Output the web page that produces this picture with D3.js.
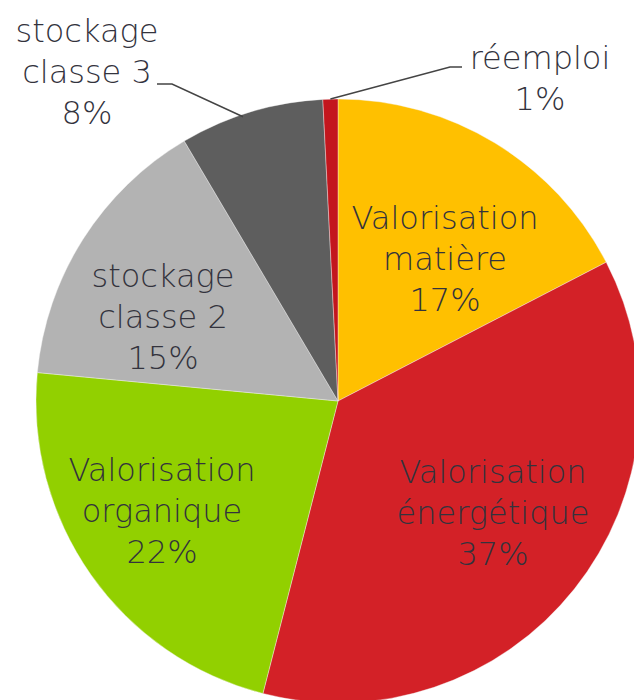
<!DOCTYPE html>
<html><head><meta charset="utf-8">
<script src="https://cdn.jsdelivr.net/npm/d3@7"></script>
<style>html,body{margin:0;padding:0;background:#fff;}svg{display:block;}</style>
</head><body>
<svg id="chart" width="634" height="700"></svg>
<script>
const categories = ["Valorisation matière","Valorisation énergétique","Valorisation organique","stockage classe 2","stockage classe 3","réemploi"];
const values = [17.4, 36.6, 22.5, 15.0, 7.7, 0.8];
const percentLabels = ["17%","37%","22%","15%","8%","1%"];
const labelLines = [["Valorisation","matière"],["Valorisation","énergétique"],["Valorisation","organique"],["stockage","classe 2"],["stockage","classe 3"],["réemploi"]];
const colors = ["#FFC000","#D32127","#92D000","#B3B3B3","#5E5E5E","#C3161D"];

const svg = d3.select("#chart");
const cx = 338, cy = 401, R = 302;
const g = svg.append("g").attr("transform", `translate(${cx},${cy})`);
const pie = d3.pie().sort(null).value(d => d);
const arcs = pie(values);
const arc = d3.arc().innerRadius(0).outerRadius(R);
g.selectAll("path").data(arcs).enter().append("path")
  .attr("d", arc).attr("fill", (d,i) => colors[i])
  .attr("stroke", "#f4f4f4").attr("stroke-width", 0.4);

const font = "'DejaVu Sans',sans-serif";
const labelPos = [
  {x: 445, y: 218},
  {x: 493, y: 472},
  {x: 162, y: 470},
  {x: 163, y: 276},
  {x: 87, y: 31},
  {x: 540, y: 58}
];
const lh = 41;
arcs.forEach((a, i) => {
  const p = labelPos[i];
  const lines = labelLines[i].concat([percentLabels[i]]);
  const t = svg.append("text").attr("text-anchor","middle")
    .attr("font-family", font).attr("font-weight", 200).attr("font-size", 32).attr("fill", "#33333d");
  lines.forEach((s, k) => {
    t.append("tspan").attr("x", p.x).attr("y", p.y + k*lh).attr("dy", "0.35em").text(s);
  });
});

function edgePoint(a) {
  const m = (a.startAngle + a.endAngle)/2;
  return [cx + Math.sin(m)*R, cy - Math.cos(m)*R];
}
const p4 = edgePoint(arcs[4]);
const p5 = edgePoint(arcs[5]);
svg.append("path").attr("d", d3.line()([[157,84],[172,84],[p4[0]-8,p4[1]+5]]))
  .attr("fill","none").attr("stroke","#444").attr("stroke-width",1.5);
svg.append("path").attr("d", d3.line()([[462,67],[450,67],[p5[0],p5[1]]]))
  .attr("fill","none").attr("stroke","#444").attr("stroke-width",1.5);
</script>
</body></html>
